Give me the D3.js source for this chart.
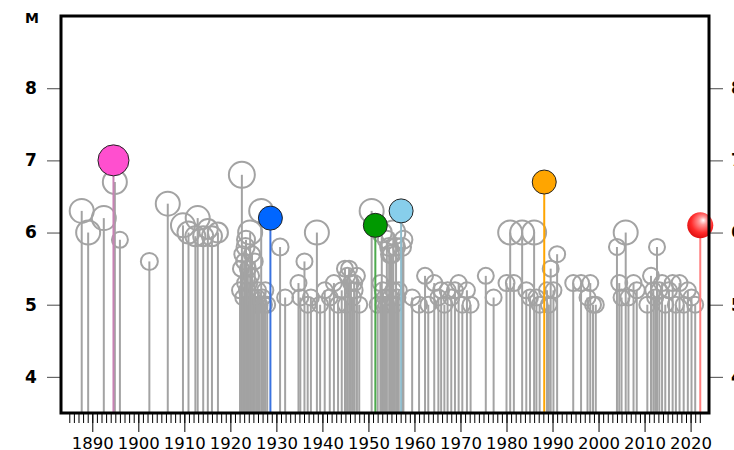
<!DOCTYPE html>
<html>
<head>
<meta charset="utf-8">
<script src="https://cdn.jsdelivr.net/npm/d3@7"></script>
<style>
  body { margin: 0; background: #fff; }
  text { font-family: "DejaVu Sans", sans-serif; }
</style>
</head>
<body>
<script>
// quake years (decimal), magnitudes and marker radius
var years = [1887.7, 1889.1, 1892.5, 1894.9, 1896.0, 1902.4, 1906.4, 1909.7, 1910.9, 1912.4,
  1912.9, 1914.1, 1915.1, 1916.0, 1917.3, 1922.5, 1922.3, 1922.6, 1922.8, 1923.0,
  1923.2, 1923.4, 1923.6, 1923.8, 1924.0, 1924.3, 1924.5, 1924.7, 1925.0, 1925.3,
  1925.6, 1926.0, 1926.7, 1927.0, 1927.3, 1928.0, 1930.8, 1931.9, 1934.8, 1935.2,
  1936.1, 1936.8, 1937.5, 1938.8, 1939.5, 1940.5, 1941.6, 1942.5, 1943.4, 1944.2,
  1944.9, 1945.4, 1945.8, 1946.2, 1946.6, 1947.0, 1947.5, 1948.0, 1950.7, 1952.0,
  1952.6, 1953.1, 1953.6, 1954.0, 1954.5, 1955.1, 1955.6, 1956.0, 1959.5, 1961.0,
  1962.3, 1963.0, 1964.3, 1965.2, 1965.8, 1966.5, 1967.2, 1968.0, 1968.8, 1969.6,
  1970.4, 1971.4, 1972.2, 1975.5, 1977.2, 1980.0, 1980.8, 1981.6, 1983.4, 1984.3,
  1985.1, 1986.0, 1986.5, 1987.2, 1988.8, 1989.2, 1989.6, 1990.2, 1991.0, 1994.5,
  1996.2, 1997.6, 1998.2, 1998.8, 1999.4, 2004.0, 2004.5, 2005.0, 2005.9, 2006.5,
  2007.6, 2008.3, 2010.6, 2011.4, 2011.9, 2012.3, 2012.7, 2013.2, 2013.8, 2014.5,
  2015.3, 2016.1, 2016.8, 2017.6, 2018.5, 2019.4, 2020.2, 2021.0,
  1922.1, 1923.3, 1924.1, 1924.9, 1925.8, 1926.3, 1927.6, 1953.3, 1954.8, 1955.4,
  1945.1, 1946.9, 1955.4, 1957.6, 1957.3, 1954.7, 1952.9, 1953.9, 1956.3, 1956.6];
var mags = [6.3, 6.0, 6.2, 6.7, 5.9, 5.6, 6.4, 6.1, 6.0, 5.95,
  6.2, 5.95, 6.05, 5.95, 6.0, 6.8, 5.5, 5.7, 5.1, 5.6,
  5.3, 5.9, 5.2, 5.5, 5.0, 6.0, 5.4, 5.7, 5.1, 5.6,
  5.0, 5.2, 6.3, 5.1, 5.0, 5.0, 5.8, 5.1, 5.3, 5.1,
  5.6, 5.0, 5.1, 6.0, 5.0, 5.2, 5.1, 5.3, 5.0, 5.2,
  5.5, 5.4, 5.5, 5.3, 5.1, 5.2, 5.4, 5.0, 6.3, 5.0,
  5.3, 5.2, 5.1, 5.9, 5.8, 5.7, 5.0, 5.8, 5.1, 5.0,
  5.4, 5.0, 5.3, 5.1, 5.2, 5.0, 5.2, 5.1, 5.2, 5.3,
  5.0, 5.2, 5.0, 5.4, 5.1, 5.3, 6.0, 5.3, 6.0, 5.2,
  5.1, 6.0, 5.1, 5.0, 5.2, 5.0, 5.5, 5.2, 5.7, 5.3,
  5.3, 5.1, 5.3, 5.0, 5.0, 5.8, 5.3, 5.1, 6.0, 5.1,
  5.3, 5.2, 5.0, 5.4, 5.2, 5.1, 5.8, 5.2, 5.3, 5.0,
  5.2, 5.3, 5.0, 5.3, 5.0, 5.2, 5.1, 5.0,
  5.2, 5.8, 5.3, 5.0, 5.1, 5.0, 5.2, 5.0, 5.1, 5.2,
  5.0, 5.3, 6.0, 5.9, 5.8, 5.7, 6.0, 5.0, 5.1, 5.2];
var radii = [12, 12, 12, 12, 8, 8.5, 12, 12, 11, 10,
  12, 10, 10, 10, 10, 13, 8, 8, 8, 8,
  8, 9, 8, 8, 8, 12, 8, 8, 8, 8,
  8, 8, 12, 8, 8, 8, 8.5, 8, 8, 8,
  8, 8, 8, 12, 8, 8, 8, 8, 8, 8,
  8, 8, 8, 8, 8, 8, 8, 8, 12, 8,
  8, 8, 8, 9, 9, 9, 8, 9, 8, 8,
  8, 8, 8, 8, 8, 8, 8, 8, 8, 8,
  8, 8, 8, 8, 8, 8, 12, 8, 12, 8,
  8, 12, 8, 8, 8, 8, 8, 8, 8, 8,
  8, 8, 8, 8, 8, 8, 8, 8, 12, 8,
  8, 8, 8, 8, 8, 8, 8, 8, 8, 8,
  8, 8, 8, 8, 8, 8, 8, 8,
  8, 9, 8, 8, 8, 8, 8, 8, 8, 8,
  8, 8, 12, 9, 9, 9, 10, 8, 8, 8];

// highlighted quakes
var hiYears = [1894.6, 1928.7, 1951.5, 1957.1, 1988.2, 2022.1];
var hiMags = [7.0, 6.2, 6.1, 6.3, 6.7, 6.1];
var hiRadii = [15.5, 12, 12, 12, 12, 13];
var hiColors = ["#ff4fcf", "#0066ff", "#009900", "#87ceeb", "#ffa500", "#ff1a1a"];
var hiStems = ["#c882b4", "#3a73e0", "#4daa4d", "#8fbccc", "#ffa500", "#ff8080"];

var yTicks = [4, 5, 6, 7, 8];

var width = 734,
    height = 450,
    margin = {left: 61, right: 25, top: 16, bottom: 37};

var x = d3.scaleLinear()
    .domain([1883.2, 2024])
    .range([margin.left, width - margin.right]);

var y = d3.scaleLinear()
    .domain([3.5, 9.0])
    .range([height - margin.bottom, margin.top]);

var svg = d3.select("body").append("svg")
    .attr("width", width)
    .attr("height", height);

var bottom = y(3.5);

var quakes = years.map(function(d, i) {
  return {year: d, mag: mags[i], r: radii[i]};
});
var hilite = hiYears.map(function(d, i) {
  return {year: d, mag: hiMags[i], r: hiRadii[i], color: hiColors[i], stem: hiStems[i]};
});

// glossy ball for the latest one
var defs = svg.append("defs");
var grad = defs.append("radialGradient")
    .attr("id", "gloss")
    .attr("cx", "55%").attr("cy", "40%").attr("r", "60%")
    .attr("fx", "62%").attr("fy", "30%");
grad.append("stop").attr("offset", "0%").attr("stop-color", "#ffffff");
grad.append("stop").attr("offset", "25%").attr("stop-color", "#ff9a9a");
grad.append("stop").attr("offset", "70%").attr("stop-color", "#ff2a2a");
grad.append("stop").attr("offset", "100%").attr("stop-color", "#e01010");

var plot = svg.append("g");

// grey circles
plot.append("g")
    .selectAll("circle")
    .data(quakes)
    .enter()
    .append("circle")
    .attr("cx", d => x(d.year))
    .attr("cy", d => y(d.mag))
    .attr("r", d => d.r)
    .attr("fill", "none")
    .attr("stroke", "#a3a3a3")
    .attr("stroke-width", 2);

// grey stems
plot.append("g")
    .selectAll("line")
    .data(quakes)
    .enter()
    .append("line")
    .attr("x1", d => x(d.year))
    .attr("x2", d => x(d.year))
    .attr("y1", d => y(d.mag))
    .attr("y2", bottom)
    .attr("stroke", "#a3a3a3")
    .attr("stroke-width", 2);

// coloured stems + balls
plot.append("g")
    .selectAll("line")
    .data(hilite)
    .enter()
    .append("line")
    .attr("x1", d => x(d.year))
    .attr("x2", d => x(d.year))
    .attr("y1", d => y(d.mag))
    .attr("y2", bottom)
    .attr("stroke", d => d.stem)
    .attr("stroke-width", 2);

plot.append("g")
    .selectAll("circle")
    .data(hilite)
    .enter()
    .append("circle")
    .attr("cx", d => x(d.year))
    .attr("cy", d => y(d.mag))
    .attr("r", d => d.r)
    .attr("fill", (d, i) => i == hilite.length - 1 ? "url(#gloss)" : d.color)
    .attr("stroke", (d, i) => i == hilite.length - 1 ? "none" : "#222")
    .attr("stroke-width", 1);

// axes
var yLeft = svg.append("g")
    .attr("transform", "translate(" + (margin.left - 1) + ",0)")
    .call(d3.axisLeft(y).tickValues(yTicks).tickSize(13).tickPadding(16).tickFormat(d3.format("d")));
var yRight = svg.append("g")
    .attr("transform", "translate(" + (width - margin.right + 1) + ",0)")
    .call(d3.axisRight(y).tickValues(yTicks).tickSize(13).tickPadding(8).tickFormat(d3.format("d")));

[yLeft, yRight].forEach(function(g) {
  g.select(".domain").remove();
  g.selectAll(".tick line").attr("stroke", "#666").attr("stroke-width", 1.2);
  g.selectAll(".tick text")
      .attr("fill", "#000")
      .style("font-size", "17px")
      .style("font-weight", "bold");
});
yLeft.selectAll(".tick text").attr("text-anchor", "middle").attr("x", -29);

var xMinor = svg.append("g")
    .attr("transform", "translate(0," + (bottom + 1) + ")")
    .call(d3.axisBottom(x).tickValues(d3.range(1885, 2023)).tickSize(9).tickFormat(""));
xMinor.select(".domain").remove();
xMinor.selectAll(".tick text").remove();
xMinor.selectAll(".tick line").attr("stroke", "#000").attr("stroke-width", 1);

var xMajor = svg.append("g")
    .attr("transform", "translate(0," + (bottom + 1) + ")")
    .call(d3.axisBottom(x).tickValues(d3.range(1890, 2021, 10)).tickSize(18).tickPadding(5).tickFormat(d3.format("d")));
xMajor.select(".domain").remove();
xMajor.selectAll(".tick line").attr("stroke", "#000").attr("stroke-width", 1);
xMajor.selectAll(".tick text")
    .attr("fill", "#000")
    .style("font-size", "16.5px");

// frame
svg.append("rect")
    .attr("x", margin.left)
    .attr("y", margin.top)
    .attr("width", width - margin.left - margin.right)
    .attr("height", bottom - margin.top)
    .attr("fill", "none")
    .attr("stroke", "#000")
    .attr("stroke-width", 3);

svg.append("text")
    .attr("x", 32)
    .attr("y", 23)
    .attr("text-anchor", "middle")
    .style("font-size", "14px")
    .style("font-weight", "bold")
    .text("M");
</script>
</body>
</html>
